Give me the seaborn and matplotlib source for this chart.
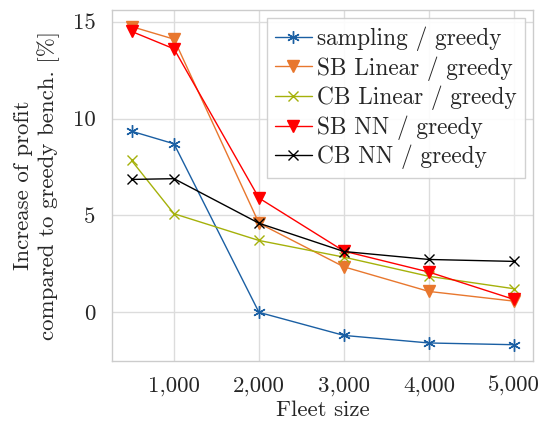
import matplotlib
matplotlib.use("Agg")
import matplotlib.pyplot as plt
import matplotlib.ticker as mticker
import seaborn as sns
import pandas as pd

fleet = [500, 1000, 2000, 3000, 4000, 5000]
sampling = [9.35, 8.7, 0.0, -1.19, -1.58, -1.67]
sb_linear = [14.75, 14.1, 4.6, 2.35, 1.08, 0.58]
cb_linear = [7.84, 5.09, 3.71, 2.85, 1.86, 1.22]
sb_nn = [14.5, 13.6, 5.9, 3.16, 2.08, 0.67]
cb_nn = [6.86, 6.9, 4.6, 3.14, 2.73, 2.63]
labels = ["sampling / greedy", "SB Linear / greedy", "CB Linear / greedy",
          "SB NN / greedy", "CB NN / greedy"]
xticks = [1000, 2000, 3000, 4000, 5000]
yticks = [0, 5, 10, 15]

sns.set_theme(style="whitegrid")
plt.rcParams["font.family"] = ["cmr10", "DejaVu Serif"]
plt.rcParams["mathtext.fontset"] = "cm"
plt.rcParams["axes.formatter.use_mathtext"] = True

series = [sampling, sb_linear, cb_linear, sb_nn, cb_nn]
rows = []
for lab, vals in zip(labels, series):
    for x, y in zip(fleet, vals):
        rows.append({"Fleet": x, "val": y, "series": lab})
df = pd.DataFrame(rows)

colors = ["#1a5fa3", "#e8772e", "#a5b10a", "#ff0000", "#000000"]
markers = [(6, 2, 0), "v", "x", "v", "x"]
msizes = [9, 9, 7, 9, 7]

fig = plt.figure(figsize=(5.41, 4.21), dpi=100)
ax = fig.add_axes([0.207, 0.143, 0.778, 0.833])

for lab, c, m, ms in zip(labels, colors, markers, msizes):
    sub = df[df["series"] == lab]
    sns.lineplot(data=sub, x="Fleet", y="val", ax=ax, color=c, marker=m,
                 markersize=ms, linewidth=1.0, label=lab,
                 markeredgecolor=c, markerfacecolor=c, markeredgewidth=1.0)

ax.set_xlim(270, 5224)
ax.set_ylim(-2.5, 15.6)
ax.set_xticks(xticks)
ax.set_yticks(yticks)
ax.xaxis.set_major_formatter(mticker.FuncFormatter(lambda v, p: f"{int(v):,}"))
ax.yaxis.set_major_formatter(mticker.FuncFormatter(lambda v, p: f"{int(v)}"))
ax.tick_params(axis="both", labelsize=16.5, length=0)
ax.tick_params(axis="x", pad=11)
ax.tick_params(axis="y", pad=12)
ax.grid(True, color="#dcdcdc", linewidth=1.0)
for s in ax.spines.values():
    s.set_color("#cccccc")
    s.set_linewidth(1.0)
ax.set_facecolor("white")

ax.set_xlabel("Fleet size", fontsize=16.5, labelpad=3)
ax.set_ylabel("Increase of profit\ncompared to greedy bench. [%]", fontsize=16.5,
              labelpad=9, linespacing=1.25)

leg = ax.legend(loc="upper right", fontsize=16.8, frameon=True, fancybox=False,
                framealpha=0.9, edgecolor="#cccccc", handlelength=1.6,
                handletextpad=0.2, borderpad=0.35, labelspacing=0.22,
                borderaxespad=0.35)
leg.get_frame().set_linewidth(1.0)

fig.savefig("out.png", dpi=100)
